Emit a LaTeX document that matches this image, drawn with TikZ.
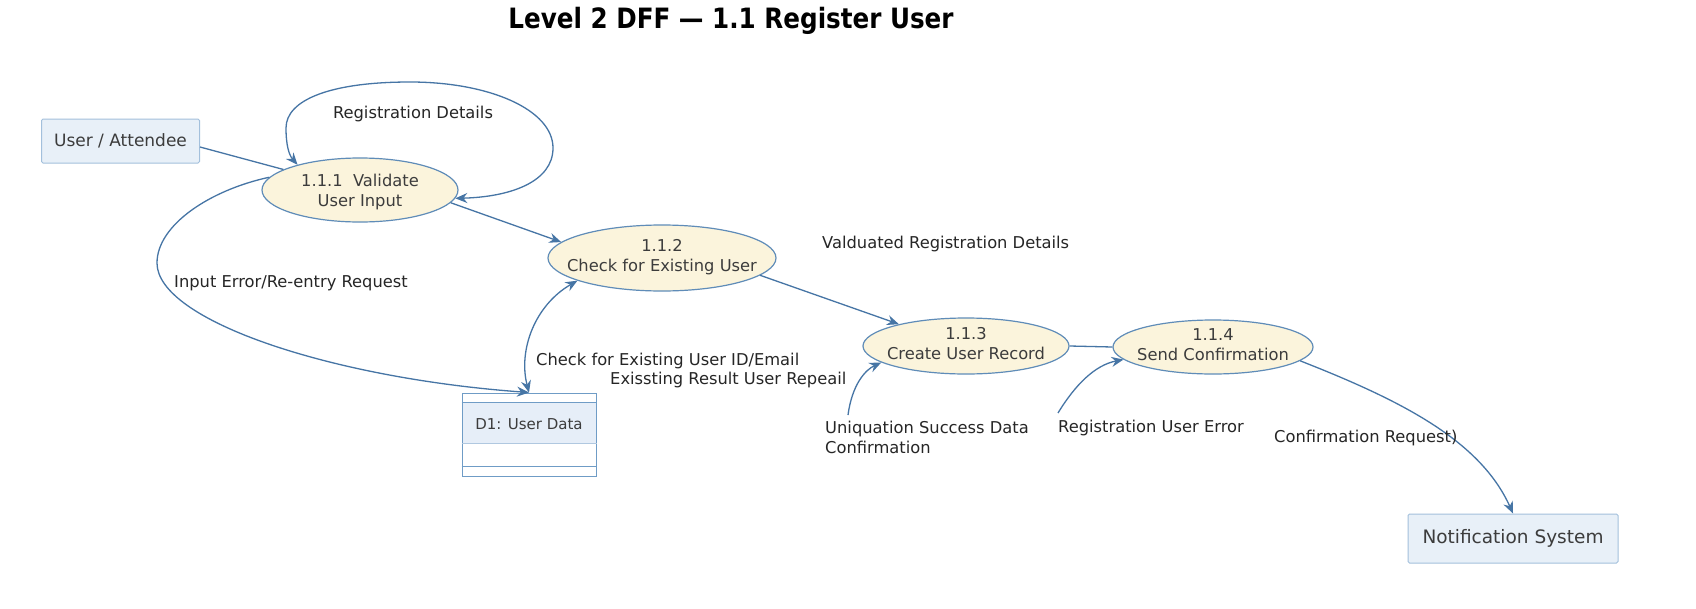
\documentclass[tikz,border=0pt]{standalone}
\usepackage{fontspec}
\setmainfont{DejaVu Sans}
\newfontfamily\titlefont[FakeStretch=0.88]{DejaVu Sans}
\usetikzlibrary{shapes.geometric,arrows.meta,calc}
\definecolor{linec}{HTML}{4675A5}
\definecolor{ellc}{HTML}{5F8CB8}
\definecolor{ellf}{HTML}{FBF4DC}
\definecolor{boxc}{HTML}{A3C0DC}
\definecolor{boxf}{HTML}{E8F0F8}
\definecolor{storec}{HTML}{6F9CC6}
\definecolor{storef}{HTML}{E6EEF8}
\definecolor{txt}{HTML}{3C3C3C}
\definecolor{lbltxt}{HTML}{262626}
\newcommand\pl[3][-4pt]{\raisebox{#1}{\makebox[0pt]{\begin{tabular}{@{}c@{}}#2\\#3\end{tabular}}}}
\tikzset{
  proc/.style={ellipse, draw=ellc, line width=1.2pt, fill=ellf, inner sep=0pt,
    text=txt, text height=0pt, text depth=0pt, font=\fontsize{16.3}{19.5}\selectfont},
  ext/.style={rectangle, draw=boxc, line width=1pt, fill=boxf, rounded corners=1.5pt, text=txt},
  store/.style={rectangle, draw=storec, line width=1pt, fill=white, inner sep=0pt,
    text=txt, text height=0pt, text depth=0pt, font=\fontsize{15}{18}\selectfont,
    path picture={\fill[storef] ([yshift=-10pt]path picture bounding box.north west)
      rectangle ([yshift=-51pt]path picture bounding box.north east);}},
  conn/.style={draw=linec, line width=1.3pt},
  flow/.style={conn, -{Stealth[length=12pt,width=10pt,inset=4pt]}},
  biflow/.style={conn, {Stealth[length=12pt,width=10pt,inset=4pt]}-{Stealth[length=12pt,width=10pt,inset=4pt]}},
  lbl/.style={text=lbltxt, inner sep=0pt, font=\fontsize{16.3}{19.5}\selectfont}
}
\begin{document}
\begin{tikzpicture}[x=1pt,y=-1pt]
\fill[white] (0,0) rectangle (1696,608);
\useasboundingbox (0,0) rectangle (1696,608);

% title
\node[text=black, font=\titlefont\bfseries\fontsize{28}{30}\selectfont] (title) at (731,21) {Level 2 DFF — 1.1 Register User};

% external entities
\node[ext, minimum width=158, minimum height=44, font=\fontsize{17}{20}\selectfont] (user) at (120.5,141) {User / Attendee};
\node[ext, minimum width=210, minimum height=49, font=\fontsize{18.5}{22}\selectfont] (notif) at (1513,538.5) {Notification System};

% processes
\node[proc, minimum width=196, minimum height=64] (p111) at (360,190) {\pl[-7pt]{1.1.1\ \ Validate}{User Input}};
\node[proc, minimum width=228, minimum height=66] (p112) at (662,258) {\pl{1.1.2}{Check for Existing User}};
\node[proc, minimum width=206, minimum height=56] (p113) at (966,346) {\pl{1.1.3}{Create User Record}};
\node[proc, minimum width=200, minimum height=54] (p114) at (1213,347) {\pl{1.1.4}{Send Confirmation}};

% data store
\node[store, minimum width=134, minimum height=83] (d1) at (529,434.5) {\raisebox{5pt}{D1: User Data}};
\draw[storec, line width=1pt] ([yshift=-10pt]d1.north west) -- ([yshift=-10pt]d1.north east);
\draw[storec!55, line width=1pt] ([yshift=-51pt]d1.north west) -- ([yshift=-51pt]d1.north east);
\draw[storec, line width=1pt] ([yshift=10pt]d1.south west) -- ([yshift=10pt]d1.south east);

% free ends
\coordinate (u1) at (848,415);
\coordinate (u2) at (1058,413);

% connectors
\draw[conn] ([yshift=-6pt]user.east) -- (p111.165);
\draw[biflow] (p111.-5) .. controls (510,197) and (553,182) .. (553,148)
  .. controls (553,110) and (490,82) .. (410,82)
  .. controls (330,82) and (286,100) .. (286,128)
  .. controls (286,145) and (289,155) .. (p111.158);
\draw[flow] (p111.172) .. controls (210,190) and (157,225) .. (157,263)
  .. controls (157,320) and (330,378) .. (d1.north);
\draw[flow] (p111.-8) -- (p112.171);
\draw[biflow] (d1.north) .. controls (518,350) and (535,305) .. (p112.-165);
\draw[flow] (p112.-10) -- (p113.162);
\draw[conn] (p113.east) -- (p114.west);
\draw[flow] (u1) .. controls (852,385) and (865,370) .. (p113.-169);
\draw[flow] (u2) .. controls (1075,385) and (1095,365) .. (p114.-172);
\draw[flow] (p114.-9) .. controls (1400,400) and (1480,440) .. (notif.north);

% labels
\node[lbl] (lreg) at (413,114) {Registration Details};
\node[lbl] (lerr) at (291,283) {Input Error/Re-entry Request};
\node[lbl, anchor=west] (lval) at (822,244) {Valduated Registration Details};
\node[lbl, anchor=west] (lchk) at (536,361) {Check for Existing User ID/Email};
\node[lbl, anchor=west] (lres) at (610,380) {Exissting Result User Repeail};
\node[lbl, anchor=west, align=left] (luni) at (825,437.5) {Uniquation Success Data\\Confirmation};
\node[lbl, anchor=west] (lrue) at (1058,428) {Registration User Error};
\node[lbl, anchor=west] (lcon) at (1274,438) {Confirmation Request)};
\end{tikzpicture}
\end{document}
